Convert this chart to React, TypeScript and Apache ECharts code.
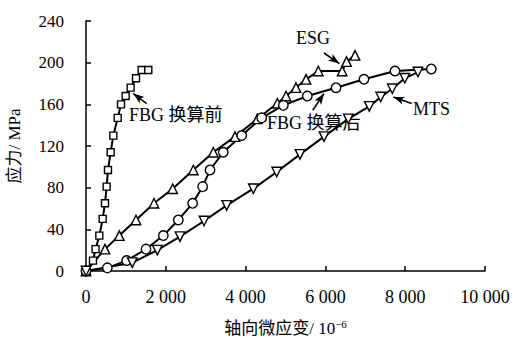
import React, { useEffect, useRef } from "react";
import * as echarts from "echarts";

const xTicks = [0, 2000, 4000, 6000, 8000, 10000];
const yTicks = [0, 40, 80, 120, 160, 200, 240];

const fbgBefore: [number, number][] = [
  [0, 0], [175, 10], [240, 21], [334, 34], [418, 50], [476, 65], [518, 81], [551, 97],
  [618, 114], [685, 130], [794, 147], [877, 160], [994, 168], [1119, 176], [1253, 185],
  [1395, 193], [1562, 193],
];
const esg: [number, number][] = [
  [0, 0], [476, 21], [835, 34], [1253, 49], [1704, 65], [2172, 79], [2690, 97], [3191, 114],
  [3734, 129], [4294, 146], [4795, 161], [5013, 168], [5263, 176], [5514, 184], [5822, 192],
  [6420, 192], [6530, 201], [6742, 207],
];
const fbgAfter: [number, number][] = [
  [0, 0], [535, 3], [1019, 10], [1504, 21], [1938, 34], [2314, 49], [2673, 65], [2924, 81],
  [3108, 97], [3441, 114], [3902, 130], [4403, 147], [4946, 159], [5547, 168], [6266, 176],
  [6967, 184], [7744, 192], [8655, 194],
];
const mts: [number, number][] = [
  [0, 0], [1160, 8], [1788, 20], [2356, 33], [2957, 48], [3526, 63], [4194, 79], [4779, 95],
  [5363, 112], [5965, 129], [6574, 146], [7100, 158], [7386, 167], [7677, 175], [7990, 185],
  [8320, 191],
];

// arrow annotations: [tail, tip] in data coordinates
const arrowFbgBefore = [[1521, 160.7], [1185, 170.3]];
const arrowEsg = [[5965, 209.3], [6348, 199.1]];
const arrowFbgAfter = [[5682, 154.3], [5965, 170.3]];
const arrowMts = [[8163, 160.7], [7702, 167]];

const FONT = "'Liberation Serif', 'Times New Roman', 'Noto Sans CJK SC', serif";

function arrowLine(a: number[][]) {
  return [
    { coord: a[0], symbol: "none" },
    { coord: a[1], symbol: "arrow", symbolSize: [6, 11] },
  ];
}

export default function App() {
  const ref = useRef<HTMLDivElement>(null);
  useEffect(() => {
    if (!ref.current) return;
    const chart = echarts.init(ref.current, undefined, { renderer: "svg" });
    const mk = (name: string, data: [number, number][], symbol: string, size: number, rotate = 0, extra: any = {}) => ({
      name,
      type: "line",
      data,
      symbol,
      symbolSize: size,
      symbolRotate: rotate,
      showAllSymbol: true,
      lineStyle: { color: "#000", width: 2 },
      itemStyle: { color: "#fff", borderColor: "#000", borderWidth: 1.4 },
      z: 3,
      ...extra,
    });
    chart.setOption({
      animation: false,
      backgroundColor: "#fff",
      grid: { left: 86, right: 30, top: 21, bottom: 70, containLabel: false, outerBoundsMode: "none" },
      xAxis: {
        type: "value",
        min: 0,
        max: 10000,
        interval: 2000,
        splitLine: { show: false },
        axisLine: { lineStyle: { color: "#000", width: 1.5 } },
        axisTick: { inside: true, length: 5, lineStyle: { color: "#000", width: 1.5 } },
        axisLabel: {
          margin: 17,
          fontSize: 18,
          color: "#000",
          fontFamily: FONT,
          formatter: (v: number) => (v >= 1000 ? String(v).replace(/(\d)(?=(\d{3})$)/, "$1 ") : String(v)),
        },
        name: "轴向微应变/ 10{sup|−6}",
        nameLocation: "middle",
        nameGap: 47,
        nameTextStyle: {
          fontSize: 17,
          color: "#000",
          fontFamily: FONT,
          rich: { sup: { fontSize: 11, verticalAlign: "top", padding: [0, 0, 10, 0], color: "#000", fontFamily: FONT } },
        },
      },
      yAxis: {
        type: "value",
        min: 0,
        max: 240,
        interval: 40,
        splitLine: { show: false },
        axisLine: { show: true, lineStyle: { color: "#000", width: 1.5 } },
        axisTick: { show: true, inside: true, length: 5, lineStyle: { color: "#000", width: 1.5 } },
        axisLabel: { margin: 22, fontSize: 17, color: "#000", fontFamily: FONT },
        name: "应力/ MPa",
        nameLocation: "middle",
        nameGap: 63,
        nameRotate: 90,
        nameTextStyle: { fontSize: 17, color: "#000", fontFamily: FONT },
      },
      series: [
        mk("FBG 换算前", fbgBefore, "rect", 7),
        mk("ESG", esg, "triangle", 9.5),
        mk("FBG 换算后", fbgAfter, "circle", 9.5),
        mk("MTS", mts, "triangle", 9.5, 180, {
          markLine: {
            silent: true,
            symbol: ["none", "arrow"],
            label: { show: false },
            lineStyle: { color: "#000", width: 1.6, type: "solid" },
            data: [arrowLine(arrowFbgBefore), arrowLine(arrowEsg), arrowLine(arrowFbgAfter), arrowLine(arrowMts)],
          },
        }),
      ],
      graphic: [
        { type: "text", x: 129, y: 115, style: { text: "FBG 换算前", font: `18px ${FONT}`, fill: "#000", textVerticalAlign: "middle" } },
        { type: "text", x: 296, y: 38, style: { text: "ESG", font: `18px ${FONT}`, fill: "#000", textVerticalAlign: "middle" } },
        { type: "text", x: 267, y: 123, style: { text: "FBG 换算后", font: `18px ${FONT}`, fill: "#000", textVerticalAlign: "middle" } },
        { type: "text", x: 413, y: 109, style: { text: "MTS", font: `18px ${FONT}`, fill: "#000", textVerticalAlign: "middle" } },
      ],
    });
    return () => chart.dispose();
  }, []);
  return <div ref={ref} style={{ position: "fixed", left: 0, top: 0, width: 515, height: 341 }} />;
}
